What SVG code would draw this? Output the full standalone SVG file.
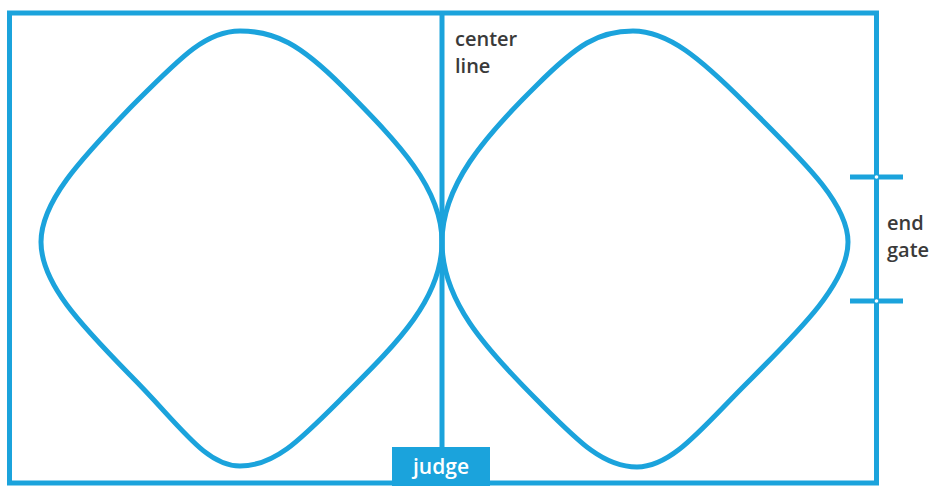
<svg xmlns="http://www.w3.org/2000/svg" width="935" height="486" viewBox="0 0 935 486">
<style>
.ln{fill:none;stroke:#1ba3dc;stroke-width:5}
.lp{fill:none;stroke:#1ba3dc;stroke-width:5;stroke-linejoin:round}
.lbl{font-family:"Open Sans","Liberation Sans",sans-serif;font-size:20px;font-weight:600;fill:#3a3a3a}
.jd{font-family:"Open Sans","Liberation Sans",sans-serif;font-size:21px;font-weight:600;fill:#ffffff}
</style>
<rect width="935" height="486" fill="#ffffff"/>
<g id="arena">
<rect class="ln" x="9.5" y="13" width="867" height="470"/>
</g>
<g id="connectors">
<line class="ln" x1="442" y1="13" x2="442" y2="450"/>
</g>
<g id="left-loop">
<path class="lp" d="M240,31 C205,31 180,58 130,108 C80,160 41,202 41,242 C41,283 80,324 130,375 C180,425 205,466 240,466 C275,466 300,440 342,398 C395,345 442,300 442,242 C442,186 395,140 342,86 C300,44 275,31 240,31 Z"/>
</g>
<g id="right-loop">
<path class="lp" d="M633,31 C668,31 700,58 746,104 C800,158 848,202 848,242 C848,283 800,330 746,384 C702,428 672,467 637,467 C602,467 577,440 537,400 C484,347 442,300 442,242 C442,186 484,137 537,85 C577,45 598,31 633,31 Z"/>
</g>
<g id="center-line-label">
<text class="lbl" x="455" y="46">center</text>
<text class="lbl" x="455" y="73">line</text>
</g>
<g id="end-gate">
<line class="ln" x1="850" y1="177" x2="903" y2="177"/>
<line class="ln" x1="850" y1="301" x2="903" y2="301"/>
<circle cx="876.5" cy="177" r="1.8" fill="#ffffff"/>
<circle cx="876.5" cy="301" r="1.8" fill="#ffffff"/>
<text class="lbl" x="887" y="230">end</text>
<text class="lbl" x="887" y="257">gate</text>
</g>
<g id="judge">
<rect x="392" y="447" width="98" height="39" fill="#1ba3dc"/>
<text class="jd" x="441" y="474" text-anchor="middle">judge</text>
</g>
</svg>
